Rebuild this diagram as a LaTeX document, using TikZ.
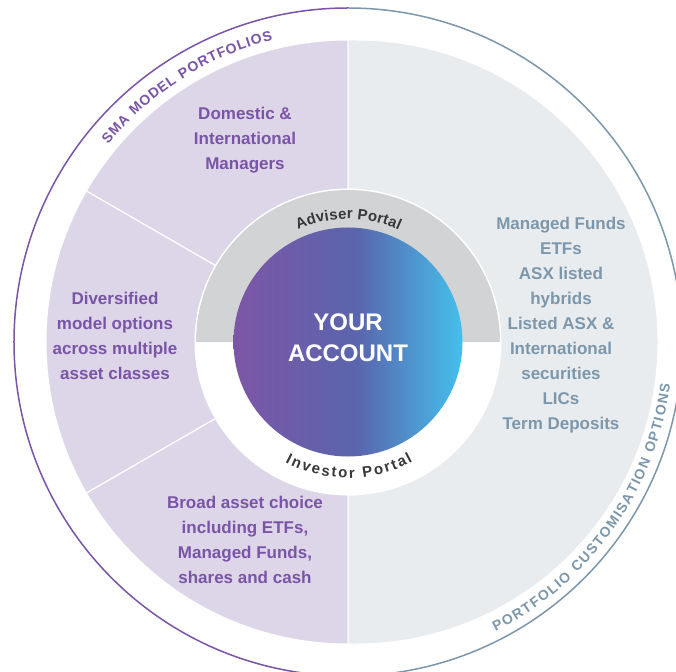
\documentclass[tikz,border=0pt]{standalone}
\usepackage{fontspec}
\setmainfont{Liberation Sans}
\usepackage{tikz}
\usetikzlibrary{decorations.text, positioning}
\usepackage{xcolor}
\definecolor{acPurple}{RGB}{122, 84, 166}
\definecolor{acLightPurple}{RGB}{221, 214, 233}
\definecolor{acLightGrey}{RGB}{233, 236, 239}
\definecolor{acSlate}{RGB}{124, 151, 171}
\definecolor{acRingGrey}{RGB}{210, 211, 213}
\definecolor{acDarkText}{RGB}{56, 56, 56}
\definecolor{acGradLeft}{RGB}{125, 86, 166}
\definecolor{acGradMid}{RGB}{90, 101, 173}
\definecolor{acGradRight}{RGB}{68, 192, 236}
\pgfdeclarehorizontalshading{accountshade}{100bp}{color(0bp)=(acGradLeft); color(25bp)=(acGradLeft); color(52bp)=(acGradMid); color(75bp)=(acGradRight); color(100bp)=(acGradRight)}

\begin{document}
\begin{tikzpicture}[
    x=1pt, y=1pt,
    segtext/.style={
        align=center,
        inner sep=0pt,
        text=acPurple,
        font=\fontsize{17}{25}\selectfont\bfseries
    },
    optiontext/.style={
        align=center,
        inner sep=0pt,
        text=acSlate,
        font=\fontsize{17}{25}\selectfont\bfseries
    },
    centretext/.style={
        align=center,
        inner sep=0pt,
        text=white,
        font=\fontsize{24}{31}\selectfont\bfseries
    },
    divider/.style={
        draw=white,
        line width=1.2pt
    }
]

% Frame
\fill[white] (-348,-329) rectangle (328,342);
\useasboundingbox (-348,-329) rectangle (328,342);
\clip (-348,-329) rectangle (328,342);

% Outer ring line
\draw[acPurple, line width=1.5pt] (90:334pt) arc[start angle=90, end angle=270, radius=334pt];
\draw[acSlate, line width=1.5pt] (-90:334pt) arc[start angle=-90, end angle=90, radius=334pt];

% Big disc - two halves
\fill[acLightPurple, draw=white, line width=1pt] (0,302) arc[start angle=90, end angle=270, radius=302pt] -- cycle;
\fill[acLightGrey, draw=white, line width=1pt] (0,302) -- (8,302) arc[start angle=90, end angle=-90, radius=302pt] -- (0,-302) -- cycle;

% Dividers in the left half
\draw[divider] (150:152pt) -- (150:302pt);
\draw[divider] (210:152pt) -- (210:302pt);

% Portal ring
\fill[white] (0,0) circle (153.5pt);
\fill[acRingGrey] (152,0) arc[start angle=0, end angle=180, radius=152pt] -- cycle;

% Your account
\shade[shading=accountshade] (0,0) circle (114.5pt);
\node[centretext] (account) at (0,4) {YOUR\\ACCOUNT};

% Curved labels
\path[decorate, decoration={text along path, text color=acPurple, text align={fit to path},
    text={|\fontsize{14}{16}\selectfont\bfseries|SMA MODEL PORTFOLIOS}}]
    (140.5:311pt) arc[start angle=140.5, end angle=104, radius=311pt];
\path[decorate, decoration={text along path, text color=acSlate, text align={fit to path},
    text={|\fontsize{14}{16}\selectfont\bfseries|PORTFOLIO CUSTOMISATION OPTIONS}}]
    (-63:325pt) arc[start angle=-63, end angle=-7.5, radius=325pt];
\path[decorate, decoration={text along path, text color=acDarkText, text align={fit to path},
    text={|\fontsize{15}{17}\selectfont\bfseries|Adviser Portal}}]
    (114:123pt) arc[start angle=114, end angle=65.5, radius=123pt];
\path[decorate, decoration={text along path, text color=acDarkText, text align={fit to path},
    text={|\fontsize{15}{17}\selectfont\bfseries|Investor Portal}}]
    (-117.5:136pt) arc[start angle=-117.5, end angle=-61.5, radius=136pt];

% Left half - SMA model portfolios
\node[segtext] (domestic) at (-103,202) {Domestic \&\\International\\Managers};
\node[segtext] (diversified) at (-233,6) {Diversified\\model options\\across multiple\\asset classes};
\node[segtext] (broad) at (-103,-197.5) {Broad asset choice\\including ETFs,\\Managed Funds,\\shares and cash};

% Right half - customisation options
\node[optiontext] (options) at (213,17) {Managed Funds\\ETFs\\ASX listed\\hybrids\\Listed ASX \&\\International\\securities\\LICs\\Term Deposits};

\end{tikzpicture}
\end{document}
